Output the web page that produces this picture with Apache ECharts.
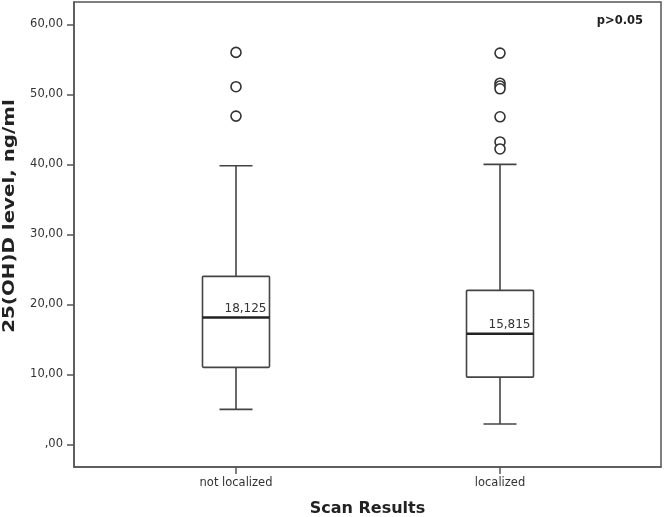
<!DOCTYPE html>
<html>
<head>
<meta charset="utf-8">
<script src="https://cdn.jsdelivr.net/npm/echarts@6/dist/echarts.min.js"></script>
<style>html,body{margin:0;padding:0;background:#fff}#c{width:664px;height:517px}</style>
</head>
<body>
<div id="c"></div>
<script>
const categories = ['not localized', 'localized'];
const lowWhisker = [5.0, 2.9];
const q1 = [11.0, 9.6];
const median = [18.125, 15.815];
const q3 = [24.0, 22.0];
const highWhisker = [39.8, 40.0];
const medianLabels = ['18,125', '15,815'];
const outliersNotLocalized = [56.0, 51.1, 46.9];
const outliersLocalized = [55.9, 51.6, 51.2, 50.8, 46.8, 43.2, 42.2];
const yTicks = [0, 10, 20, 30, 40, 50, 60];

const boxData = categories.map((c, i) => [i + 1, lowWhisker[i], q1[i], median[i], q3[i], highWhisker[i], i]);
const outlierData = [];
outliersNotLocalized.forEach(v => outlierData.push([1, v]));
outliersLocalized.forEach(v => outlierData.push([2, v]));

function fmtY(v) {
  const s = v.toFixed(2).replace('.', ',');
  return s.startsWith('0') ? s.slice(1) : s;
}

const chart = echarts.init(document.getElementById('c'), null, {renderer: 'canvas'});
const FONT = 'DejaVu Sans';
chart.setOption({
  animation: false,
  grid: {left: 74, right: 3, top: 2, bottom: 50, show: true, borderColor: '#555', borderWidth: 1.5, backgroundColor: 'transparent', outerBoundsMode: 'none', containLabel: false},
  xAxis: {
    type: 'value', min: 0.3864, max: 2.6098,
    splitLine: {show: false},
    axisLine: {show: true, onZero: false, lineStyle: {color: '#555', width: 1.5}},
    axisTick: {show: true, customValues: [1, 2], length: 7, lineStyle: {color: '#555', width: 1.5}},
    axisLabel: {customValues: [1, 2], formatter: v => categories[Math.round(v) - 1] || '', color: '#333', fontFamily: FONT, fontSize: 11.5, margin: 10},
    name: 'Scan Results', nameLocation: 'middle', nameGap: 34,
    nameTextStyle: {fontFamily: FONT, fontWeight: 'bold', fontSize: 16, color: '#222'}
  },
  yAxis: {
    type: 'value', min: -3.24, max: 63.2,
    splitLine: {show: false},
    axisLine: {show: true, onZero: false, lineStyle: {color: '#555', width: 1.5}},
    axisTick: {show: true, customValues: yTicks, length: 7, lineStyle: {color: '#555', width: 1.5}},
    axisLabel: {customValues: yTicks, formatter: fmtY, color: '#333', fontFamily: FONT, fontSize: 11.5, margin: 11}
  },
  graphic: [
    {type: 'text', x: 10, y: 216, rotation: Math.PI / 2, scaleX: 1.24, style: {text: '25(OH)D level, ng/ml', font: 'bold 16px "DejaVu Sans"', fill: '#222', align: 'center', verticalAlign: 'middle'}},
    {type: 'text', x: 643, y: 21, style: {text: 'p>0.05', font: 'bold 11.5px "DejaVu Sans"', fill: '#222', align: 'right', verticalAlign: 'middle'}}
  ],
  series: [
    {
      type: 'custom',
      data: boxData,
      renderItem: function (params, api) {
        const x = api.value(0);
        const idx = api.value(6);
        const pLow = api.coord([x, api.value(1)]);
        const pQ1 = api.coord([x, api.value(2)]);
        const pMed = api.coord([x, api.value(3)]);
        const pQ3 = api.coord([x, api.value(4)]);
        const pHigh = api.coord([x, api.value(5)]);
        const half = 33.5;
        const cap = 16.5;
        const cx = pMed[0];
        const ls = {stroke: '#444', lineWidth: 1.6, fill: null};
        return {
          type: 'group',
          children: [
            {type: 'line', shape: {x1: cx, y1: pHigh[1], x2: cx, y2: pQ3[1]}, style: ls},
            {type: 'line', shape: {x1: cx, y1: pLow[1], x2: cx, y2: pQ1[1]}, style: ls},
            {type: 'line', shape: {x1: cx - cap, y1: pHigh[1], x2: cx + cap, y2: pHigh[1]}, style: ls},
            {type: 'line', shape: {x1: cx - cap, y1: pLow[1], x2: cx + cap, y2: pLow[1]}, style: ls},
            {type: 'rect', shape: {x: cx - half, y: pQ3[1], width: 2 * half, height: pQ1[1] - pQ3[1], r: 1}, style: {stroke: '#444', lineWidth: 1.6, fill: '#fff'}},
            {type: 'line', shape: {x1: cx - half, y1: pMed[1], x2: cx + half, y2: pMed[1]}, style: {stroke: '#222', lineWidth: 2.5}},
            {type: 'text', x: cx + half - 3, y: pMed[1] - 3, style: {text: medianLabels[idx], font: '12px "DejaVu Sans"', fill: '#333', align: 'right', verticalAlign: 'bottom'}}
          ]
        };
      }
    },
    {
      type: 'scatter',
      data: outlierData,
      symbol: 'circle',
      symbolSize: 10,
      itemStyle: {color: '#fff', borderColor: '#333', borderWidth: 1.6, opacity: 1},
      z: 3
    }
  ]
});
</script>
</body>
</html>
